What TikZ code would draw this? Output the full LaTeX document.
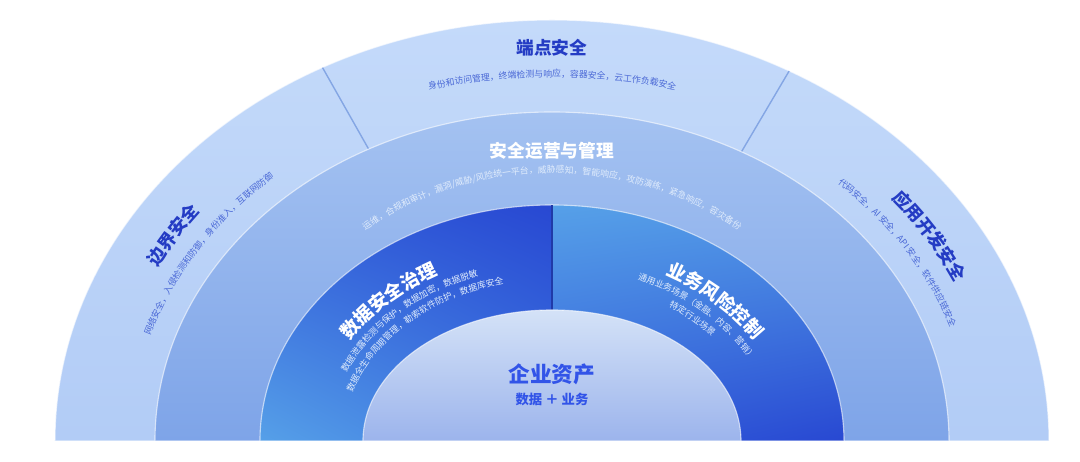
\documentclass[tikz,border=0pt]{standalone}
\usepackage{fontspec}
\newfontfamily\cjk{Noto Sans CJK SC}
\usetikzlibrary{decorations.text, shadings}
\definecolor{outertop}{RGB}{196,218,250}
\definecolor{outerbot}{RGB}{178,204,246}
\definecolor{opstop}{RGB}{164,194,241}
\definecolor{opsbot}{RGB}{126,164,232}
\definecolor{deepblue}{RGB}{40,72,210}
\definecolor{darkmid}{RGB}{50,94,218}
\definecolor{midblue}{RGB}{60,118,224}
\definecolor{skyblue}{RGB}{86,160,232}
\definecolor{coretop}{RGB}{212,226,247}
\definecolor{corebot}{RGB}{156,180,236}
\definecolor{titleblue}{RGB}{36,60,196}
\definecolor{subblue}{RGB}{74,104,214}
\definecolor{coreblue}{RGB}{50,84,232}
\definecolor{sepline}{RGB}{132,166,228}
\definecolor{softwhite}{RGB}{224,236,252}

\newcommand\ringtitle{\cjk\bfseries\fontsize{12.6}{14}\selectfont}
\newcommand\coretitle{\cjk\bfseries\fontsize{13.3}{15}\selectfont}
\newcommand\ringsub{\cjk\fontsize{6.3}{7}\selectfont}

\begin{document}
\begin{tikzpicture}[
  scale=0.025,
  ring/.style={draw=white, draw opacity=0.6, line width=0.8pt},
  sep/.style={sepline, line width=1pt},
  along/.style 2 args={decorate, decoration={text along path, text align=center,
    text color=#1, text={#2}}},
  every node/.style={font=\cjk, inner sep=0pt}
]
  \fill[white] (-552,-21) rectangle (528,441);
  \useasboundingbox (-552,-21) rectangle (528,441);

  % rings, outside in
  \shade[ring, top color=outertop, bottom color=outerbot]
    (-497,0) arc[start angle=180, end angle=0, x radius=497, y radius=421] -- cycle;
  \coordinate (bl1) at (117.5:497 and 421);
  \coordinate (bl2) at (117.5:397 and 329);
  \coordinate (br1) at (61.5:497 and 421);
  \coordinate (br2) at (61.5:397 and 329);
  \draw[sep] (bl1) -- (bl2);
  \draw[sep] (br1) -- (br2);
  \shade[ring, top color=opstop, bottom color=opsbot]
    (-397,0) arc[start angle=180, end angle=0, x radius=397, y radius=329] -- cycle;
  \shade[ring, upper left=darkmid, upper right=deepblue, lower left=skyblue, lower right=midblue]
    (-292,0) arc[start angle=180, end angle=90, x radius=292, y radius=236] -- (0,0) -- cycle;
  \shade[ring, upper left=skyblue, upper right=skyblue!80!midblue, lower left=darkmid, lower right=deepblue]
    (0,236) arc[start angle=90, end angle=0, x radius=292, y radius=236] -- (0,0) -- cycle;
  \coordinate (cs1) at (0,236);
  \coordinate (cs2) at (0,131);
  \draw[deepblue!80!black, line width=0.8pt] (cs1) -- (cs2);
  \shade[ring, top color=coretop, bottom color=corebot]
    (-189,0) arc[start angle=180, end angle=0, x radius=189, y radius=131] -- cycle;

  % outer ring
  \node[font=\ringtitle, text=titleblue] (endpoint) at (0,393) {端点安全};
  \path[along={subblue}{|\ringsub|身份和访问管理，终端检测与响应，容器安全，云工作负载安全}]
    (125:468 and 364) arc[start angle=125, end angle=55, x radius=468, y radius=364];
  \path[along={titleblue}{|\ringtitle|边界安全}]
    (172:445 and 375) arc[start angle=172, end angle=124, x radius=445, y radius=375];
  \path[along={subblue}{|\ringsub|网络安全，入侵检测和防御，身份准入，互联网防御}]
    (180:421 and 351) arc[start angle=180, end angle=116, x radius=421, y radius=351];
  \path[along={titleblue}{|\ringtitle|应用开发安全}]
    (56:445 and 375) arc[start angle=56, end angle=8, x radius=445, y radius=375];
  \path[along={subblue}{|\ringsub|代码安全，AI 安全，API 安全，软件供应链安全}]
    (64:421 and 351) arc[start angle=64, end angle=0, x radius=421, y radius=351];

  % operations ring
  \node[font=\ringtitle, text=white] (secops) at (0,290) {安全运营与管理};
  \path[along={softwhite}{|\ringsub|运维，合规和审计，漏洞/威胁/风险统一平台，威胁感知，智能响应，攻防演练，紧急响应，容灾备份}]
    (150:302 and 268) arc[start angle=150, end angle=30, x radius=302, y radius=268];

  % data and business ring
  \path[along={white}{|\coretitle|数据安全治理}]
    (160:239 and 189) arc[start angle=160, end angle=108, x radius=239, y radius=189];
  \path[along={softwhite}{|\ringsub|数据泄露检测与保护，数据加密，数据脱敏}]
    (166:223 and 175) arc[start angle=166, end angle=102, x radius=223, y radius=175];
  \path[along={softwhite}{|\ringsub|数据全生命周期管理，勒索软件防护，数据库安全}]
    (172:209 and 162) arc[start angle=172, end angle=96, x radius=209, y radius=162];
  \path[along={white}{|\coretitle|业务风险控制}]
    (72:239 and 189) arc[start angle=72, end angle=20, x radius=239, y radius=189];
  \path[along={softwhite}{|\ringsub|通用业务场景（金融、内容、营销）}]
    (80:223 and 175) arc[start angle=80, end angle=12, x radius=223, y radius=175];
  \path[along={softwhite}{|\ringsub|特定行业场景}]
    (80:209 and 162) arc[start angle=80, end angle=12, x radius=209, y radius=162];

  % core
  \node[font=\cjk\bfseries\fontsize{15.4}{17}\selectfont, text=coreblue] (asset) at (0,67) {企业资产};
  \node[font=\cjk\bfseries\fontsize{9.5}{11}\selectfont, text=coreblue] (assetsub) at (0,42) {数据 ＋ 业务};
\end{tikzpicture}
\end{document}
